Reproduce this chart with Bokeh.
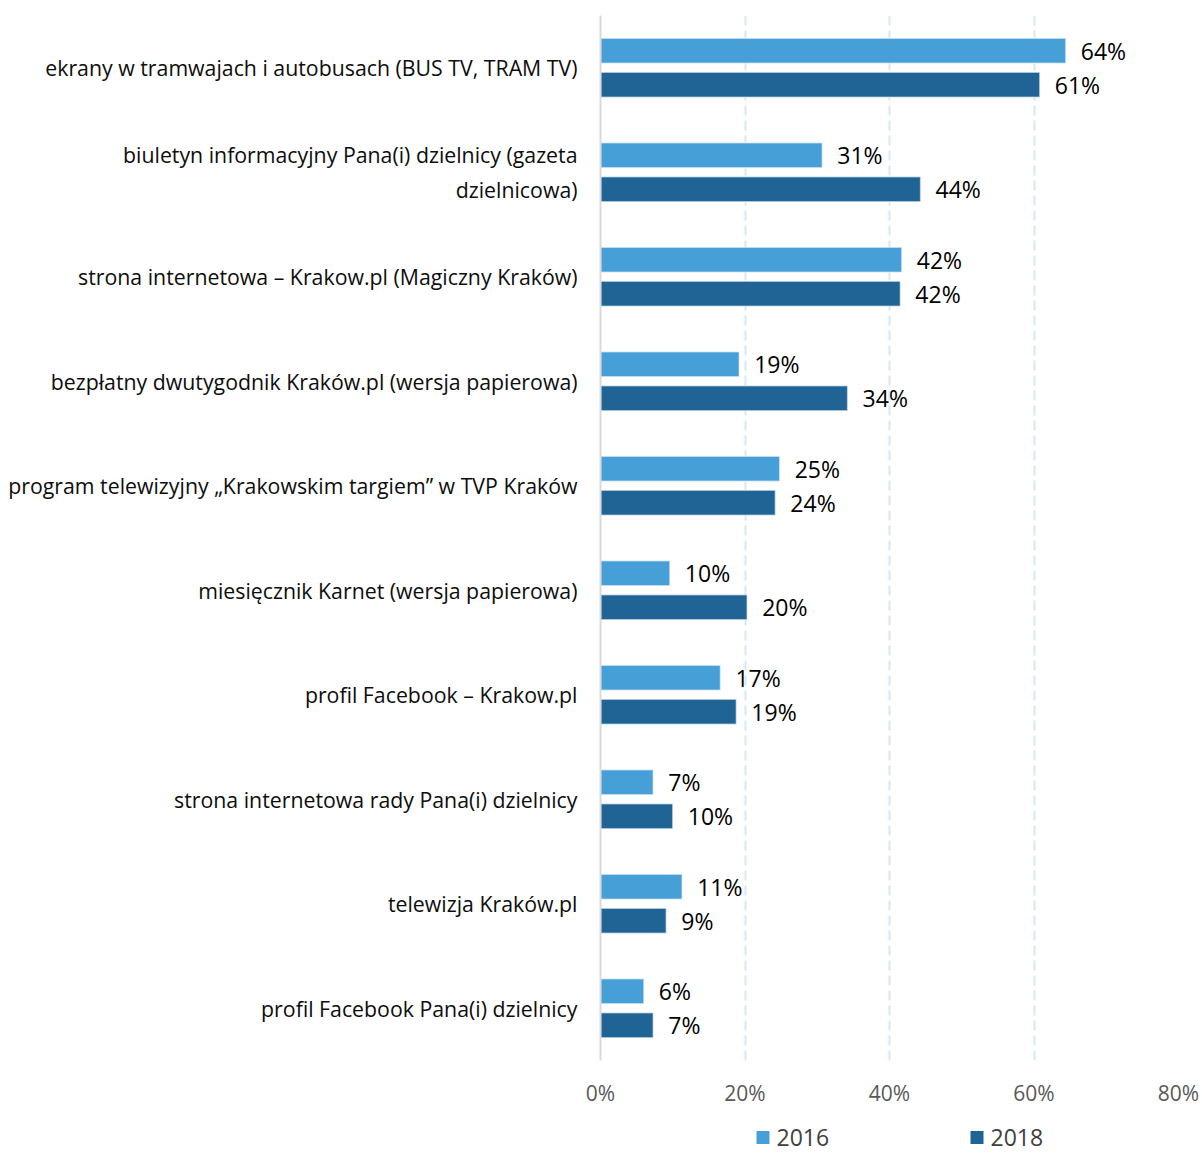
from bokeh.plotting import figure
from bokeh.layouts import column
from bokeh.models import (FactorRange, Range1d, ColumnDataSource, FixedTicker,
                          PrintfTickFormatter)
from bokeh.transform import dodge
from bokeh.core.properties import value
from bokeh.embed import file_html
from bokeh.resources import INLINE

categories = [
    "ekrany w tramwajach i autobusach (BUS TV, TRAM TV)",
    "biuletyn informacyjny Pana(i) dzielnicy (gazeta\ndzielnicowa)",
    "strona internetowa – Krakow.pl (Magiczny Kraków)",
    "bezpłatny dwutygodnik Kraków.pl (wersja papierowa)",
    "program telewizyjny „Krakowskim targiem” w TVP Kraków",
    "miesięcznik Karnet (wersja papierowa)",
    "profil Facebook – Krakow.pl",
    "strona internetowa rady Pana(i) dzielnicy",
    "telewizja Kraków.pl",
    "profil Facebook Pana(i) dzielnicy",
]
values_2016 = [64.4, 30.7, 41.7, 19.2, 24.8, 9.6, 16.6, 7.3, 11.3, 6.0]
values_2018 = [60.8, 44.3, 41.5, 34.2, 24.2, 20.3, 18.8, 10.0, 9.1, 7.3]
x_ticks = [0, 20, 40, 60, 80]
series_names = ["2016", "2018"]
colors = ["#479fd8", "#1f6494"]

FONT = "Open Sans"

src = ColumnDataSource(dict(
    cat=categories,
    v16=values_2016,
    v18=values_2018,
    l16=[f"{round(v)}%" for v in values_2016],
    l18=[f"{round(v)}%" for v in values_2018],
))

p = figure(
    width=1202, height=1109,
    y_range=FactorRange(*list(reversed(categories)), range_padding=0),
    x_range=Range1d(0, 80),
    output_backend="svg", toolbar_location=None,
    min_border_left=600, min_border_right=24, min_border_top=15, min_border_bottom=46,
)
p.outline_line_color = None
p.background_fill_color = "white"

off = 0.162
h = 0.24
bar_style = dict(line_color="white", line_alpha=0.5, line_width=1.5)
p.hbar(y=dodge("cat", off, range=p.y_range), right="v16", left=0, height=h,
       source=src, fill_color=colors[0], **bar_style)
p.hbar(y=dodge("cat", -off, range=p.y_range), right="v18", left=0, height=h,
       source=src, fill_color=colors[1], **bar_style)

p.text(x="v16", y=dodge("cat", off, range=p.y_range), text="l16", source=src,
       x_offset=15, text_baseline="middle", text_align="left",
       text_font=value(FONT), text_font_size="23px", text_color="#000000")
p.text(x="v18", y=dodge("cat", -off, range=p.y_range), text="l18", source=src,
       x_offset=15, text_baseline="middle", text_align="left",
       text_font=value(FONT), text_font_size="23px", text_color="#000000")

# grid
p.ygrid.grid_line_color = None
p.xgrid.ticker = FixedTicker(ticks=x_ticks[1:])
p.xgrid.grid_line_color = "#d5e8f7"
p.xgrid.grid_line_width = 2
p.xgrid.grid_line_dash = "10 5"

# x axis
p.xaxis.ticker = FixedTicker(ticks=x_ticks)
p.xaxis.formatter = PrintfTickFormatter(format="%d%%")
p.xaxis.axis_line_color = None
p.xaxis.major_tick_line_color = None
p.xaxis.minor_tick_line_color = None
p.xaxis.major_label_standoff = 12
p.xaxis.major_label_text_font = FONT
p.xaxis.major_label_text_font_size = "21px"
p.xaxis.major_label_text_color = "#595959"

# y axis
p.yaxis.axis_line_color = "#d9d9d9"
p.yaxis.axis_line_width = 2
p.yaxis.major_tick_line_color = None
p.yaxis.minor_tick_line_color = None
p.yaxis.major_label_standoff = 17
p.yaxis.major_label_text_font = FONT
p.yaxis.major_label_text_font_size = "21.3px"
p.yaxis.major_label_text_color = "#0d0d0d"

# legend strip (swatch + label per series); its frame is aligned with the main frame
lg = figure(width=1202, height=45, x_range=Range1d(600, 1178), y_range=Range1d(0, 45),
            output_backend="svg", toolbar_location=None,
            min_border_left=0, min_border_right=0, min_border_top=0, min_border_bottom=0)
lg.axis.visible = False
lg.grid.visible = False
lg.outline_line_color = None
legend_src = ColumnDataSource(dict(
    sx=[762.5, 976.5], tx=[776, 990], y=[17, 17], name=series_names, color=colors,
))
lg.scatter(x="sx", y="y", marker="square", size=13, fill_color="color",
           line_color=None, source=legend_src)
lg.text(x="tx", y="y", text="name", source=legend_src, text_baseline="middle",
        text_align="left", text_font=value(FONT), text_font_size="23px",
        text_color="#404040")

open("out.html", "w").write(file_html(column(p, lg, spacing=0), INLINE))
